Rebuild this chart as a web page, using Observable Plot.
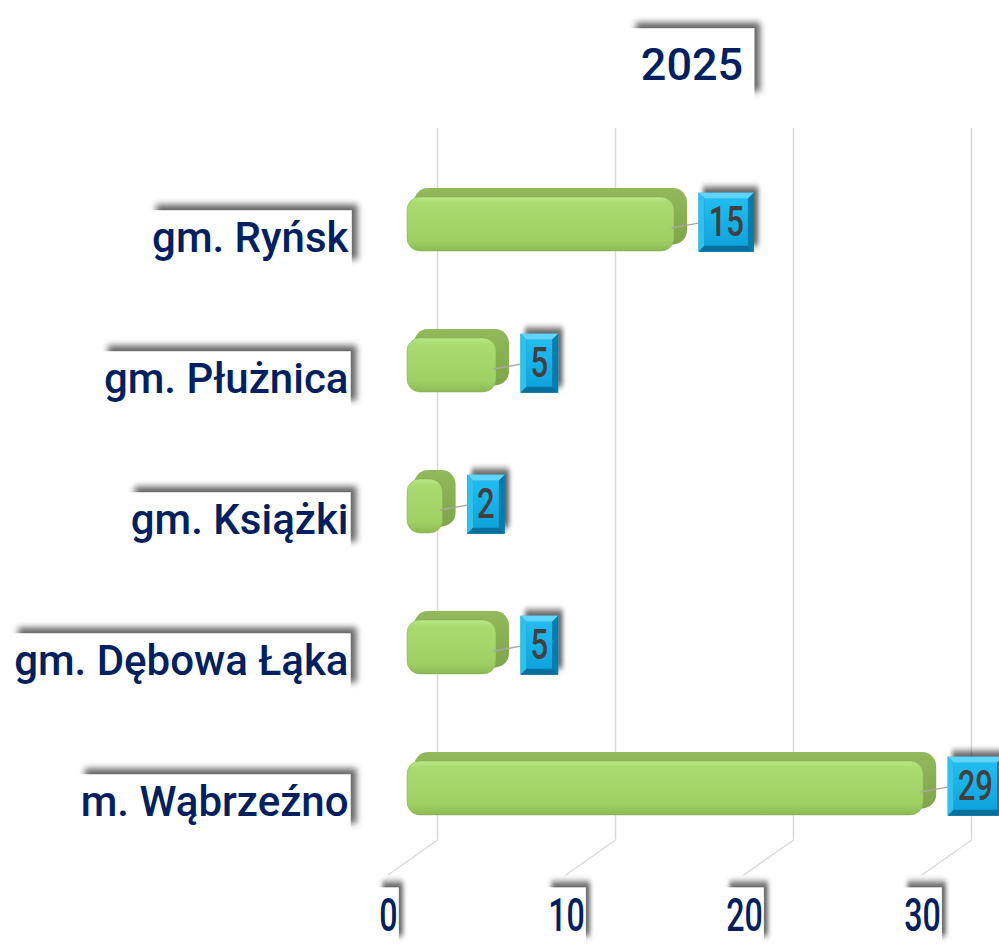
<!DOCTYPE html>
<html><head><meta charset="utf-8">
<script src="https://cdn.jsdelivr.net/npm/d3@7"></script>
<script src="https://cdn.jsdelivr.net/npm/@observablehq/plot@0.6"></script>
<style>
html,body{margin:0;padding:0;background:#fff;}
#chart{width:999px;height:951px;overflow:hidden;}
</style></head><body><div id="chart"></div>
<script>
// ---- data ----
const categories = ["gm. Ryńsk", "gm. Płużnica", "gm. Książki", "gm. Dębowa Łąka", "m. Wąbrzeźno"];
const values = [15, 5, 2, 5, 29];
const xTicks = [0, 10, 20, 30];
const titleText = "2025";

// ---- layout constants (style) ----
const XR = [407, 941];            // x range in px
const k = 30 / (XR[1] - XR[0]);   // data units per px
const GRID_TOP = -0.656, GRID_BOTTOM = 4.39, FLOOR = 4.64;
const NAVY = "#002060";

const rows = categories.map((name, i) => ({name, i, value: values[i]}));

const plot = Plot.plot({
  width: 999, height: 951,
  marginLeft: 350, marginRight: 0, marginTop: 0, marginBottom: 0,
  x: {domain: [0, 30], range: XR, axis: null},
  y: {domain: [-0.5, 4.5], range: [150, 855], axis: null},
  style: {background: "transparent", overflow: "visible"},
  marks: [
    // back-wall gridlines
    Plot.ruleX(xTicks, {x: d => d, y1: () => GRID_TOP, y2: () => GRID_BOTTOM, dx: 30, stroke: "#d9d9d9", strokeWidth: 1.5}),
    // floor perspective lines
    Plot.link(xTicks, {x1: d => d + 30 * k, x2: d => d - 20 * k, y1: () => GRID_BOTTOM, y2: () => FLOOR, stroke: "#d9d9d9", strokeWidth: 1.5}),
    // bar top/side faces
    Plot.rect(rows, {x1: () => 7 * k, x2: d => d.value + 13 * k, y1: d => d.i - 0.23, y2: d => d.i + 0.17, rx: 14, fill: "url(#gBack)"}),
    // bar front faces
    Plot.rect(rows, {x1: () => 0, x2: "value", y1: d => d.i - 0.167, y2: d => d.i + 0.216, rx: 13, fill: "url(#gFront)", stroke: "#86ad50", strokeOpacity: 0.5, strokeWidth: 1}),
    // leader lines
    Plot.link(rows, {x1: d => d.value - 3 * k, y1: d => d.i + 0.05, x2: d => d.value + 24 * k, y2: d => d.i + 0.015, stroke: "#a6a6a6", strokeWidth: 1.5}),
    // value labels
    Plot.text(rows, {x: "value", y: "i", text: d => String(d.value), dx: 34, dy: 2, textAnchor: "start", fontSize: 42, fontFamily: "Roboto", fontWeight: 500, fill: "#404040", ariaDescription: "vals"}),
    // category labels
    Plot.text(rows, {y: "i", text: "name", frameAnchor: "left", textAnchor: "end", dx: -2, dy: 18, fontSize: 42, fontFamily: "Roboto", fontWeight: 500, fill: NAVY, ariaDescription: "cats"}),
    // x tick labels
    Plot.text(xTicks, {x: d => d, text: d => String(d), frameAnchor: "bottom", dx: -19, dy: -21, fontSize: 46, fontFamily: "Roboto", fontWeight: 500, fill: NAVY, ariaDescription: "ticks"}),
    // title
    Plot.text([titleText], {frameAnchor: "top", text: d => d, dx: 17, dy: 48, fontSize: 45, fontFamily: "Roboto", fontWeight: 500, fill: NAVY, ariaDescription: "title"})
  ]
});

document.getElementById("chart").append(plot);

// ---- decorations: gradients, shadows, label boxes ----
const svg = d3.select(plot);
const defs = svg.insert("defs", ":first-child");
const f = defs.append("filter").attr("id", "sh").attr("x", "-50%").attr("y", "-50%").attr("width", "200%").attr("height", "200%");
f.append("feDropShadow").attr("dx", 6).attr("dy", -6).attr("stdDeviation", 3).attr("flood-color", "#000").attr("flood-opacity", 0.6);

function lin(id, stops, x2 = 0, y2 = 1) {
  const g = defs.append("linearGradient").attr("id", id).attr("x1", 0).attr("y1", 0).attr("x2", x2).attr("y2", y2);
  stops.forEach(([o, c]) => g.append("stop").attr("offset", o).attr("stop-color", c));
}
lin("gFront", [[0, "#b9e887"], [0.12, "#a9db70"], [0.8, "#9fd064"], [1, "#8cba55"]]);
lin("gBack", [[0, "#92ba5c"], [1, "#7ea549"]]);
lin("gFace", [[0, "#22bdf0"], [1, "#0fa3dc"]]);

function boxify(desc, {padX, padTop, padBottom, scaleX = 1, draw}) {
  svg.selectAll(`g[aria-description="${desc}"] > text`).each(function () {
    if (scaleX !== 1) this.setAttribute("transform", (this.getAttribute("transform") || "") + ` scale(${scaleX},1)`);
    const b = this.getBBox();
    const g = document.createElementNS("http://www.w3.org/2000/svg", "g");
    const t = this.getAttribute("transform");
    if (t) g.setAttribute("transform", t);
    this.parentNode.insertBefore(g, this);
    draw(d3.select(g), {x: b.x - padX / scaleX, y: b.y - padTop, w: b.width + 2 * padX / scaleX, h: b.height + padTop + padBottom}, scaleX);
  });
}
const whiteBox = (g, r) => g.append("rect").attr("x", r.x).attr("y", r.y).attr("width", r.w).attr("height", r.h).attr("fill", "#fff").attr("filter", "url(#sh)");

boxify("cats", {padX: 2, padTop: 3, padBottom: 3, draw: whiteBox});
boxify("title", {padX: 11, padTop: 10, padBottom: 6, draw: whiteBox});
boxify("ticks", {padX: 1, padTop: 0, padBottom: 0, scaleX: 0.7, draw: whiteBox});
boxify("vals", {padX: 10, padTop: 5, padBottom: 5, scaleX: 0.74, draw: (g, r, s) => {
  const e = 6, ex = e / s;
  const x0 = r.x, y0 = r.y, x1 = r.x + r.w, y1 = r.y + r.h;
  g.append("rect").attr("x", x0).attr("y", y0).attr("width", r.w).attr("height", r.h).attr("fill", "#0b86bb").attr("filter", "url(#sh)");
  const poly = (pts, c) => g.append("polygon").attr("points", pts.map(p => p.join(",")).join(" ")).attr("fill", c);
  poly([[x0, y0], [x1, y0], [x1 - ex, y0 + e], [x0 + ex, y0 + e]], "#5fd6f9");
  poly([[x0, y0], [x0 + ex, y0 + e], [x0 + ex, y1 - e], [x0, y1]], "#2fc1ee");
  poly([[x0, y1], [x0 + ex, y1 - e], [x1 - ex, y1 - e], [x1, y1]], "#086e9c");
  poly([[x1, y0], [x1, y1], [x1 - ex, y1 - e], [x1 - ex, y0 + e]], "#0a7aab");
  g.append("rect").attr("x", x0 + ex).attr("y", y0 + e).attr("width", r.w - 2 * ex).attr("height", r.h - 2 * e).attr("fill", "url(#gFace)");
}});
</script></body></html>
